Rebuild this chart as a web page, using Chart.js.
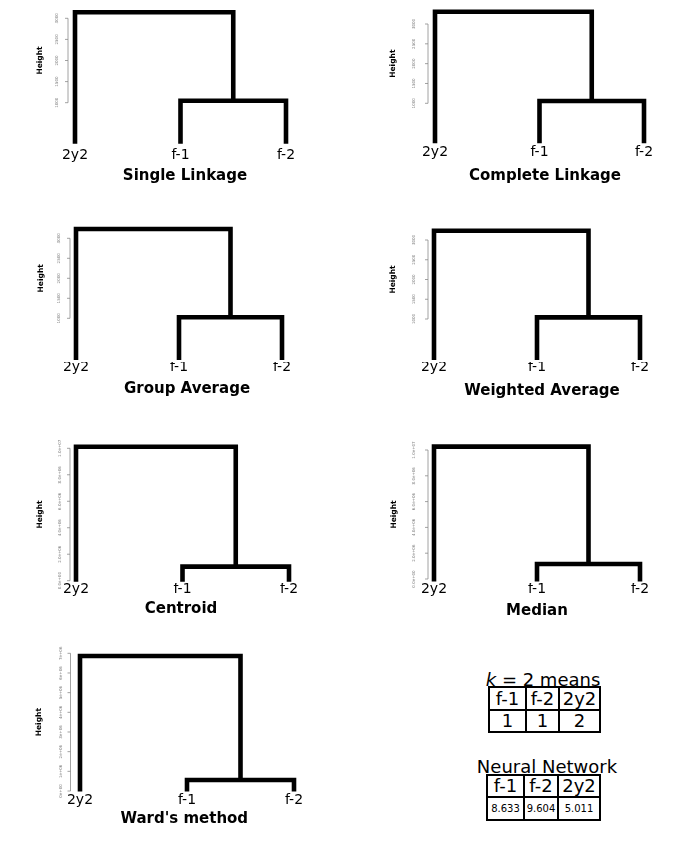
<!DOCTYPE html>
<html>
<head>
<meta charset="utf-8">
<script src="https://cdn.jsdelivr.net/npm/chart.js@4"></script>
<style>
  html, body { margin: 0; padding: 0; background: #fff; }
  body { width: 688px; height: 846px; position: relative; overflow: hidden; font-family: "DejaVu Sans", sans-serif; }
  canvas { position: absolute; }
  .cap { position: absolute; text-align: center; font-size: 18px; line-height: 22px; white-space: nowrap; }
  table { position: absolute; border-collapse: collapse; table-layout: fixed; }
  td { border: 2px solid #000; text-align: center; padding: 0; font-size: 18px; line-height: 18px; overflow: hidden; }
</style>
</head>
<body>
<script>
// Seven dendrograms of the same three samples, one per linkage method,
// plus the k-means assignment and neural network output tables.

var leaves = ["2y2", "f-1", "f-2"];
var methods = ["Single Linkage", "Complete Linkage", "Group Average", "Weighted Average",
               "Centroid", "Median", "Ward's method"];
// height where f-1 and f-2 join
var lowMerge = [1047, 1058, 1025, 1042, 1.06e6, 1.16e6, 0.56e6];
// height where 2y2 joins the pair
var topMerge = [3142, 3310, 3233, 3235, 1.012e7, 1.026e7, 6.86e6];
// bottom of the hanging leaves
var leafBase = [28, -8, -42, -37, -0.07e6, -0.2e6, -0.03e6];

var linkTicks = [1000, 1500, 2000, 2500, 3000];
var linkTickLabels = ["1000", "1500", "2000", "2500", "3000"];
var sqTicks = [0, 2e6, 4e6, 6e6, 8e6, 1e7];
var sqTickLabels = ["0.0e+00", "2.0e+06", "4.0e+06", "6.0e+06", "8.0e+06", "1.0e+07"];
var wardTicks = [0, 1e6, 2e6, 3e6, 4e6, 5e6, 6e6, 7e6];
var wardTickLabels = ["0e+00", "1e+06", "2e+06", "3e+06", "4e+06", "5e+06", "6e+06", "7e+06"];

var kmeansNames = ["f-1", "f-2", "2y2"];
var kmeansCluster = [1, 1, 2];
var nnOutput = ["8.633", "9.604", "5.011"];

var axisTicks = [linkTicks, linkTicks, linkTicks, linkTicks, sqTicks, sqTicks, wardTicks];
var axisLabels = [linkTickLabels, linkTickLabels, linkTickLabels, linkTickLabels, sqTickLabels, sqTickLabels, wardTickLabels];

// page placement of each panel:
// axisX, leaf1X, leaf3X, rightX, loTickPx, hiTickPx, topPx, bottomPx, labelY, titleY, tickGap, heightGap
var frames = [
  [68,   75,  286, 302, 102.7, 18.3,  6,   145, 155.5, 175.7, 11, 28],
  [428,  435, 644, 662, 103.3, 24,    6,   145, 152,   175.7, 14, 35],
  [70,   76,  282, 304, 318.3, 238.3, 222, 362, 367.5, 389,   11, 29],
  [428,  434, 640, 656, 319,   240,   222, 362, 367.5, 390.7, 14, 35],
  [70,   76,  289, 292, 580.7, 448.3, 440, 583, 589.5, 609,   10, 30],
  [428,  434, 640, 646, 579,   450,   440, 583, 589.5, 610.8, 14, 34],
  [70.5, 80,  294, 298, 791,   653.3, 648, 793, 800,   819,   10, 31]
];

// R-style left axis: line spans first..last tick, tiny rotated labels, "Height"
var rAxis = {
  id: "rAxis",
  afterDraw: function (chart, args, o) {
    var ctx = chart.ctx, ys = chart.scales.y, x0 = chart.chartArea.left;
    var vals = o.ticks;
    var p0 = ys.getPixelForValue(vals[0]), p1 = ys.getPixelForValue(vals[vals.length - 1]);
    ctx.save();
    ctx.strokeStyle = "#8a8a8a"; ctx.lineWidth = 0.8;
    ctx.beginPath();
    ctx.moveTo(x0, p0); ctx.lineTo(x0, p1);
    vals.forEach(function (v) { var p = ys.getPixelForValue(v); ctx.moveTo(x0, p); ctx.lineTo(x0 - 3, p); });
    ctx.stroke();
    ctx.fillStyle = "#7a7a7a"; ctx.font = '4px "DejaVu Sans"';
    ctx.textAlign = "center"; ctx.textBaseline = "middle";
    vals.forEach(function (v, k) {
      ctx.save();
      ctx.translate(x0 - o.tickGap, ys.getPixelForValue(v));
      ctx.rotate(-Math.PI / 2);
      ctx.fillText(o.labels[k], 0, 0);
      ctx.restore();
    });
    ctx.fillStyle = "#000"; ctx.font = 'bold 7.5px "DejaVu Sans"';
    ctx.translate(x0 - o.heightGap, (p0 + p1) / 2);
    ctx.rotate(-Math.PI / 2);
    ctx.fillText("Height", 0, 0);
    ctx.restore();
  }
};

frames.forEach(function (f, i) {
  var axisX = f[0], l1 = f[1], l3 = f[2], rightX = f[3], loPx = f[4], hiPx = f[5],
      topPx = f[6], bottomPx = f[7], labelY = f[8], titleY = f[9];
  var ticks = axisTicks[i];
  var xPer = 2 / (l3 - l1);
  var xmin = 1 - (l1 - axisX) * xPer, xmax = 3 + (rightX - l3) * xPer;
  var yPer = (ticks[ticks.length - 1] - ticks[0]) / (loPx - hiPx);
  var ymin = ticks[0] - (bottomPx - loPx) * yPer;
  var ymax = ticks[ticks.length - 1] + (hiPx - topPx) * yPer;

  var cl = Math.round(axisX - 50), ct = topPx - 6;
  var cw = rightX + 24 - cl, ch = bottomPx + 45 - ct;
  var cv = document.createElement("canvas");
  cv.width = cw; cv.height = ch;
  cv.style.left = cl + "px"; cv.style.top = ct + "px";
  document.body.appendChild(cv);

  var mid = 2.5; // between f-1 and f-2
  var line = { borderColor: "#000", borderWidth: 4.6, pointRadius: 0, tension: 0, fill: false,
               clip: false, borderJoinStyle: "miter", borderCapStyle: "butt" };

  new Chart(cv, {
    type: "line",
    data: {
      datasets: [
        Object.assign({ data: [{ x: 1, y: leafBase[i] }, { x: 1, y: topMerge[i] },
                               { x: mid, y: topMerge[i] }, { x: mid, y: lowMerge[i] }] }, line),
        Object.assign({ data: [{ x: 2, y: leafBase[i] }, { x: 2, y: lowMerge[i] },
                               { x: 3, y: lowMerge[i] }, { x: 3, y: leafBase[i] }] }, line)
      ]
    },
    options: {
      responsive: false, animation: false, devicePixelRatio: 1, events: [],
      layout: { padding: { left: axisX - cl, top: topPx - ct, right: cl + cw - rightX, bottom: 0 } },
      scales: {
        x: {
          type: "linear", min: xmin, max: xmax,
          afterBuildTicks: function (s) { s.ticks = leaves.map(function (_, k) { return { value: k + 1 }; }); },
          afterFit: function (s) { s.height = 45; s.paddingLeft = 0; s.paddingRight = 0; },
          grid: { display: false, drawTicks: false }, border: { display: false },
          ticks: { autoSkip: false, maxRotation: 0, padding: labelY - bottomPx - 8.4, color: "#000",
                   font: { family: "DejaVu Sans", size: 14 },
                   callback: function (v, k) { return leaves[k]; } },
          title: { display: true, text: methods[i], color: "#000",
                   font: { family: "DejaVu Sans", size: 15, weight: "bold" },
                   padding: { top: 0, bottom: bottomPx + 36 - titleY } }
        },
        y: { type: "linear", display: false, min: ymin, max: ymax }
      },
      plugins: {
        legend: { display: false }, tooltip: { enabled: false },
        rAxis: { ticks: ticks, labels: axisLabels[i], tickGap: f[10], heightGap: f[11] }
      }
    },
    plugins: [rAxis]
  });
});

// small result tables
function addTable(caption, cx, cy, left, top, colW, rowH, rows, fontSizes) {
  var c = document.createElement("div");
  c.className = "cap";
  c.style.left = (cx - 100) + "px"; c.style.width = "200px"; c.style.top = (cy - 11) + "px";
  c.innerHTML = caption;
  document.body.appendChild(c);
  var t = document.createElement("table");
  t.style.left = left + "px"; t.style.top = top + "px";
  t.style.width = colW.reduce(function (a, b) { return a + b; }, 0) + "px";
  var cg = document.createElement("colgroup");
  colW.forEach(function (w) { var col = document.createElement("col"); col.style.width = w + "px"; cg.appendChild(col); });
  t.appendChild(cg);
  rows.forEach(function (r, ri) {
    var tr = document.createElement("tr");
    tr.style.height = rowH[ri] + "px";
    r.forEach(function (v) {
      var td = document.createElement("td");
      td.textContent = v;
      td.style.fontSize = fontSizes[ri] + "px";
      tr.appendChild(td);
    });
    t.appendChild(tr);
  });
  document.body.appendChild(t);
}

addTable("<i>k</i> = 2 means", 543, 680, 488, 686, [37, 33, 41], [23, 22],
         [kmeansNames, kmeansCluster], [18, 18]);
addTable("Neural Network", 547, 767, 486, 774, [37, 34, 42], [22, 23],
         [kmeansNames, nnOutput], [18, 10]);
</script>
</body>
</html>
